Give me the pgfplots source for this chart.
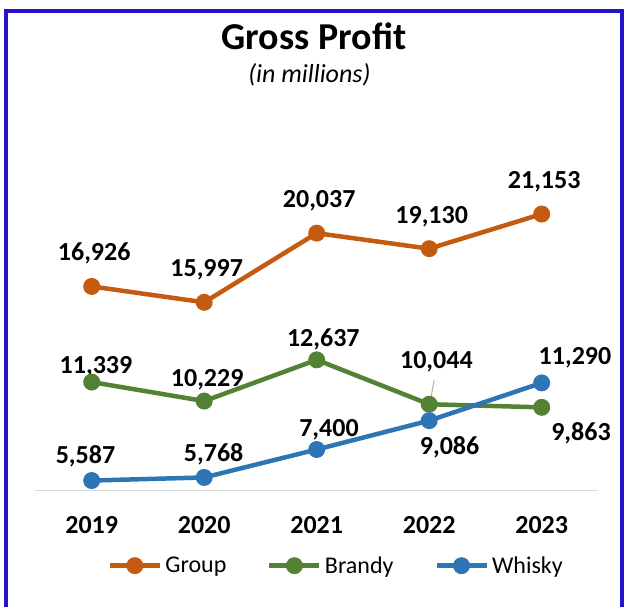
\documentclass[border=0pt]{standalone}
\usepackage{fontspec}
\setmainfont{Carlito}
\usepackage{pgfplots}
\pgfplotsset{compat=1.18}
\definecolor{cGroup}{RGB}{197,90,17}
\definecolor{cBrandy}{RGB}{84,130,53}
\definecolor{cWhisky}{RGB}{46,117,182}
\definecolor{cFrame}{RGB}{40,20,200}
\definecolor{cAxis}{RGB}{217,217,217}
\begin{document}
\begin{tikzpicture}[x=1pt,y=1pt]
\useasboundingbox (0,0) rectangle (626,607);
\draw[cFrame, line width=4pt] (6,0) -- (6,596) -- (622,596) -- (622,0);
\node[anchor=base, inner sep=0pt, font=\fontsize{38}{38}\selectfont\bfseries] at (314,557) {Gross Profit};
\node[anchor=base, inner sep=0pt, font=\fontsize{26}{26}\selectfont\itshape] at (309.4,524) {(in millions)};
\begin{axis}[
  at={(35.45pt,116.4pt)}, anchor=south west,
  scale only axis, width=562.5pt, height=342.4pt,
  xmin=-0.5, xmax=4.5, ymin=5000, ymax=25000,
  axis x line*=bottom, axis y line=none,
  x axis line style={draw=cAxis, line width=1.3pt, -},
  xtick={0,...,4}, xticklabels={2019,2020,2021,2022,2023},
  major tick length=0pt,
  ytick=\empty,
  xticklabel style={anchor=base, yshift=-43pt, font=\fontsize{26}{26}\selectfont\bfseries},
  clip=false,
  legend columns=3,
  legend style={at={(axis description cs:0.1279,-0.2193)}, anchor=west, draw=none, fill=none, inner sep=0pt,
    font=\fontsize{24}{24}\selectfont, nodes={inner sep=3.3pt},
    /tikz/every even column/.append style={column sep=37.5pt}},
  legend image code/.code={\draw[#1, mark repeat=2, mark phase=2] plot coordinates {(0pt,0pt) (25pt,0pt) (50pt,0pt)};},
  every axis plot/.append style={line width=4.5pt, mark=*, mark size=6.2pt, mark options={line width=1pt, solid}},
]
\addplot[cGroup, mark options={fill=cGroup}] coordinates {(0,16926) (1,15997) (2,20037) (3,19130) (4,21153)};
\addplot[cBrandy, mark options={fill=cBrandy}] coordinates {(0,11339) (1,10229) (2,12637) (3,10044) (4,9863)};
\addplot[cWhisky, mark options={fill=cWhisky}] coordinates {(0,5587) (1,5768) (2,7400) (3,9086) (4,11290)};
\legend{Group,Brandy,Whisky}
\draw[gray!60, line width=1pt] ([shift={(5pt,24.3pt)}]axis cs:3,10044) -- ([shift={(0.7pt,1pt)}]axis cs:3,10044);
% Group labels
\node[anchor=base, font=\fontsize{26}{26}\selectfont\bfseries, xshift=2.5pt, yshift=25.5pt] at (axis cs:0,16926) {16,926};
\node[anchor=base, font=\fontsize{26}{26}\selectfont\bfseries, xshift=2.5pt, yshift=25.5pt] at (axis cs:1,15997) {15,997};
\node[anchor=base, font=\fontsize{26}{26}\selectfont\bfseries, xshift=2.5pt, yshift=25.5pt] at (axis cs:2,20037) {20,037};
\node[anchor=base, font=\fontsize{26}{26}\selectfont\bfseries, xshift=2.5pt, yshift=25.5pt] at (axis cs:3,19130) {19,130};
\node[anchor=base, font=\fontsize{26}{26}\selectfont\bfseries, xshift=2.5pt, yshift=25.5pt] at (axis cs:4,21153) {21,153};
% Brandy labels
\node[anchor=base, font=\fontsize{26}{26}\selectfont\bfseries, xshift=4.3pt, yshift=8.7pt] at (axis cs:0,11339) {11,339};
\node[anchor=base, font=\fontsize{26}{26}\selectfont\bfseries, xshift=3pt, yshift=14.3pt] at (axis cs:1,10229) {10,229};
\node[anchor=base, font=\fontsize{26}{26}\selectfont\bfseries, xshift=6.6pt, yshift=13.3pt] at (axis cs:2,12637) {12,637};
\node[anchor=base, font=\fontsize{26}{26}\selectfont\bfseries, xshift=7.2pt, yshift=36pt] at (axis cs:3,10044) {10,044};
\node[anchor=base, font=\fontsize{26}{26}\selectfont\bfseries, xshift=39.3pt, yshift=-33.4pt] at (axis cs:4,9863) {9,863};
% Whisky labels
\node[anchor=base, font=\fontsize{26}{26}\selectfont\bfseries, xshift=-6.2pt, yshift=16.7pt] at (axis cs:0,5587) {5,587};
\node[anchor=base, font=\fontsize{26}{26}\selectfont\bfseries, xshift=9.5pt, yshift=16pt] at (axis cs:1,5768) {5,768};
\node[anchor=base, font=\fontsize{26}{26}\selectfont\bfseries, xshift=12.3pt, yshift=12.7pt] at (axis cs:2,7400) {7,400};
\node[anchor=base, font=\fontsize{26}{26}\selectfont\bfseries, xshift=20.4pt, yshift=-34.3pt] at (axis cs:3,9086) {9,086};
\node[anchor=base, font=\fontsize{26}{26}\selectfont\bfseries, xshift=33.3pt, yshift=18.4pt] at (axis cs:4,11290) {11,290};
\end{axis}
\end{tikzpicture}
\end{document}
